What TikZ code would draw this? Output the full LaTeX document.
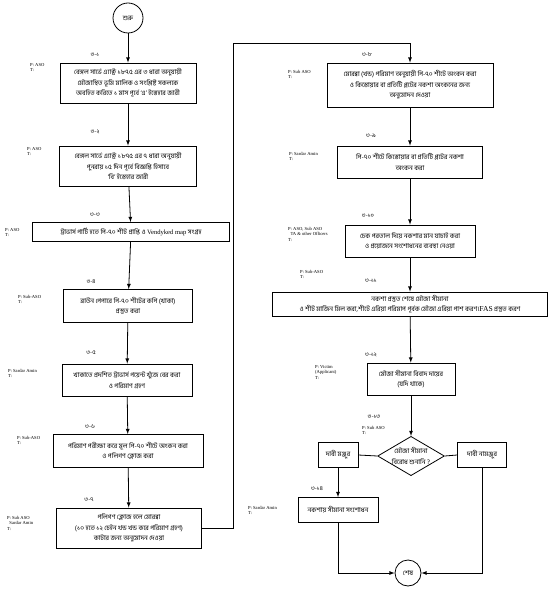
\documentclass[tikz,border=0pt]{standalone}
\usepackage{fontspec}
\setmainfont{Liberation Serif}
\newfontfamily\bnfont[Script=Bengali]{Hind Siliguri}
\usetikzlibrary{shapes.geometric}
\tikzset{
  box/.style={draw,line width=0.8pt,align=center,inner sep=1pt,font=\bnfont\fontsize{6.6}{10.5}\selectfont},
  decision/.style={draw,diamond,line width=0.8pt,align=center,inner sep=0pt,aspect=1.7,font=\bnfont\fontsize{6.6}{10.5}\selectfont},
  terminal/.style={draw,circle,line width=0.8pt,inner sep=0pt,font=\bnfont\fontsize{6.6}{8}\selectfont},
  steplabel/.style={font=\bnfont\fontsize{5.8}{6}\selectfont},
  actor/.style={anchor=north west,align=left,inner sep=0pt,font=\fontsize{4.6}{5.6}\selectfont},
  flow/.style={line width=0.8pt,-latex}
}
\begin{document}
\begin{tikzpicture}[x=1pt,y=-1pt]
\useasboundingbox (0,0) rectangle (550,593);
\node[terminal,minimum size=30] (start) at (128,18) {শুরু};
\node[box,minimum width=136,minimum height=40] (b1) at (128,83) {বেঙ্গল সার্ভে এ্যাক্ট ১৮৭৫ এর ৩ ধারা অনুযায়ী\\মৌজাস্থিত ভূমি মালিক ও সংশ্লিষ্ট সকলকে\\অবহিত করিতে ১ মাস পূর্বে ‘এ’ ইস্তেহার জারী};
\node[box,minimum width=137,minimum height=40] (b2) at (128,166) {বেঙ্গল সার্ভে এ্যাক্ট ১৮৭৫ এর ৭ ধারা অনুযায়ী\\পুনরায় ১৫ দিন পূর্বে বিজ্ঞপ্তি হিসাবে\\‘বি’ ইস্তেহার জারী};
\node[box,minimum width=197,minimum height=19] (b3) at (131,232) {ট্রাভার্স পার্টি হতে পি-৭০ শীট প্রাপ্তি ও {\rmfamily Vendyked map} সংগ্রহ};
\node[box,minimum width=129,minimum height=33] (b4) at (128,306) {ব্রাউন পেপারে পি-৭০ শীটের কপি (খাকা)\\প্রস্তুত করা};
\node[box,minimum width=130,minimum height=32] (b5) at (127,380) {খাকাতে প্রদর্শিত ট্রাভার্স পয়েন্ট খুঁজে বের করা\\ও পরিমাণ গ্রহণ};
\node[box,minimum width=150,minimum height=33] (b6) at (128,451) {পরিমাণ পরীক্ষা করে মূল পি-৭০ শীটে অংকন করা\\ও পলিগণ ক্লোজ করা};
\node[box,minimum width=145,minimum height=40] (b7) at (129,528) {পলিগণ ক্লোজ হলে মোরব্বা\\(১০ হতে ১২ চেইন খন্ড খন্ড করে পরিমাণ গ্রহণ)\\কাটার জন্য অনুমোদন দেওয়া};
\node[box,minimum width=166,minimum height=44] (b8) at (410,85) {মোরব্বা (খন্ড) পরিমাণ অনুযায়ী পি-৭০ শীটে অংকন করা\\ও কিস্তোয়ার বা প্রতিটি প্লটের নকশা অংকনের জন্য\\অনুমোদন দেওয়া};
\node[box,minimum width=145,minimum height=32] (b9) at (410,162) {পি-৭০ শীটে কিস্তোয়ার বা প্রতিটি প্লটের নকশা\\অংকন করা};
\node[box,minimum width=130,minimum height=32] (b10) at (410,241) {চেক পরতাল দিয়ে নকশার মান যাচাই করা\\ও প্রয়োজনে সংশোধনের ব্যবস্থা নেওয়া};
\node[box,minimum width=275,minimum height=24] (b11) at (410,304) {নকশা প্রস্তুত শেষে মৌজা সীমানা\\ও শীট মার্জিন মিল করা,শীটে এরিয়া পরিমাপ পূর্বক মৌজা এরিয়া পাশ করণ।{\rmfamily\fontsize{7.6}{10.5}\selectfont FAS} প্রস্তুত করণ};
\node[box,minimum width=88,minimum height=32] (b12) at (411,379) {মৌজা সীমানা বিবাদ দায়ের\\(যদি থাকে)};
\node[decision] (d13) at (411,456) {মৌজা সীমানা\\বিরোধ শুনানি ?};
\node[box,minimum width=40,minimum height=25] (yes) at (338,455) {দাবী মঞ্জুর};
\node[box,minimum width=49,minimum height=25] (no) at (482,455) {দাবী নামঞ্জুর};
\node[box,minimum width=80,minimum height=25] (b14) at (338,510) {নকশায় সীমানা সংশোধন};
\node[terminal,minimum size=26] (stop) at (408,573) {শেষ};

\node[steplabel] at (95,55) {৩-১};
\node[steplabel] at (95,132) {৩-২};
\node[steplabel] at (95,215) {৩-৩};
\node[steplabel] at (91,282) {৩-৪};
\node[steplabel] at (91,353) {৩-৫};
\node[steplabel] at (90,427) {৩-৬};
\node[steplabel] at (89,500) {৩-৭};
\node[steplabel] at (367,55) {৩-৮};
\node[steplabel] at (371,136) {৩-৯};
\node[steplabel] at (368,216) {৩-১০};
\node[steplabel] at (371,281) {৩-১১};
\node[steplabel] at (371,355) {৩-১২};
\node[steplabel] at (374,417) {৩-১৩};
\node[steplabel] at (317,489) {৩-১৪};

\node[actor] at (30,63) {P: ASO\\T:};
\node[actor] at (27,147) {P: ASO\\T:};
\node[actor] at (5,228) {P: ASO\\T:};
\node[actor] at (18,295) {P: Sub-ASO\\T:};
\node[actor] at (8,369) {P: Sardar Amin\\T:};
\node[actor] at (17,436) {P: Sub-ASO\\T:};
\node[actor] at (7,516) {P: Sub ASO\\\ \ Sardar Amin\\T:};
\node[actor] at (288,70) {P: Sub ASO\\T:};
\node[actor] at (289,152) {P: Sardar Amin\\T:};
\node[actor] at (288,227) {P: ASO, Sub ASO\\\ \ TA \& other Officers\\T:};
\node[actor] at (300,270) {P: Sub-ASO\\T:};
\node[actor] at (315,365) {P: Victim\\(Applicant)\\T:};
\node[actor] at (362,426) {P: Sub ASO\\T:};
\node[actor] at (248,506) {P: Sardar Amin\\T:};

\coordinate (turn) at (233,43);
\draw[flow] (start) -- (b1);
\draw[flow] (b1) -- (b2);
\draw[flow] (b2) -- (b3);
\draw[flow] (b3) -- (b4);
\draw[flow] (b4) -- (b5);
\draw[flow] (b5) -- (b6);
\draw[flow] (b6) -- (b7);
\draw[flow] (b7.east) -| (turn) -| (b8.north);
\draw[flow] (b8) -- (b9);
\draw[flow] (b9) -- (b10);
\draw[flow] (b10) -- (b11);
\draw[flow] (b11) -- (b12);
\draw[flow] (b12) -- (d13);
\draw[line width=0.8pt] (d13.west) -- (yes.east);
\draw[line width=0.8pt] (d13.east) -- (no.west);
\draw[flow] (yes) -- (b14);
\draw[flow] (b14.south) |- (stop.west);
\draw[flow] (no.south) |- (stop.east);
\end{tikzpicture}
\end{document}
